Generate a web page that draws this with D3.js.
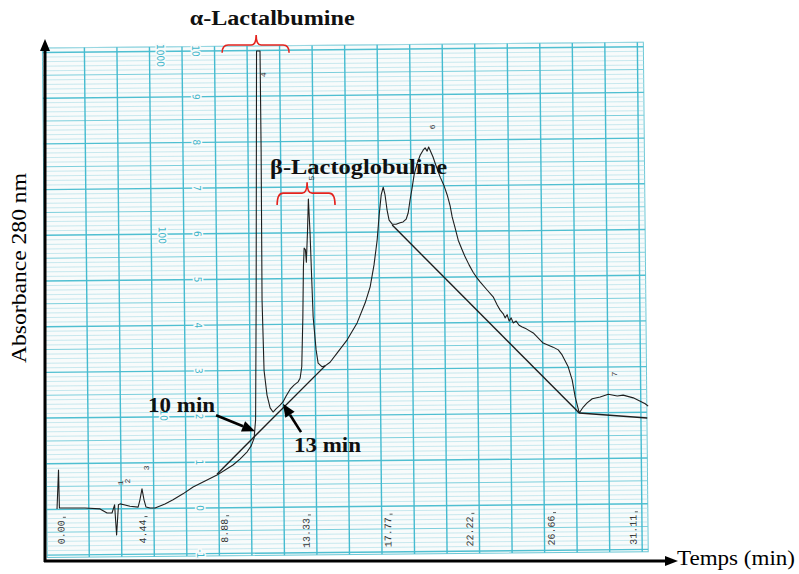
<!DOCTYPE html>
<html><head><meta charset="utf-8">
<script src="https://cdn.jsdelivr.net/npm/d3@7"></script>
<style>body{margin:0;background:#fff}</style>
</head><body><svg id="c" width="799" height="574"></svg>
<script>
// ---- Data (time in min, absorbance in chart units) ----
const traceTime = [-0.27,-0.19,-0.14,0.44,1.25,2.07,2.45,2.72,2.86,2.97,3.07,3.16,3.37,3.70,4.14,4.24,4.35,4.46,4.57,4.79,5.06,5.60,6.04,6.58,7.13,7.78,8.43,8.87,9.30,9.68,10.07,10.29,10.45,10.53,10.56,10.58,10.77,10.83,10.88,10.99,11.15,11.32,11.48,11.64,11.86,12.02,12.19,12.41,12.62,12.84,12.95,13.04,13.10,13.13,13.17,13.24,13.29,13.35,13.40,13.49,13.59,13.66,13.82,13.93,14.15,14.31,14.58,14.96,15.51,16.05,16.49,16.76,16.97,17.14,17.25,17.36,17.47,17.57,17.68,17.79,17.96,18.17,18.39,18.55,18.72,18.83,18.93,19.04,19.15,19.31,19.48,19.64,19.75,19.86,19.94,20.02,20.18,20.29,20.57,20.78,20.95,21.11,21.22,21.38,21.55,21.76,21.93,22.14,22.36,22.58,22.74,23.12,23.45,23.67,23.83,24.00,24.10,24.21,24.32,24.43,24.54,24.70,24.86,25.03,25.25,25.63,26.17,26.71,26.99,27.20,27.53,27.75,27.91,28.13,28.35,28.56,28.84,29.27,29.71,30.20,30.52,31.07,31.72,31.88];
const traceAbs = [-0.02,0.83,0,0,0,-0.02,-0.11,-0.11,0.07,-0.59,0.07,0.09,0.07,0.04,0.02,0.18,0.42,0.18,0.02,0,0,0.09,0.18,0.31,0.46,0.59,0.72,0.83,0.94,1.07,1.23,1.36,1.53,1.93,4.55,10.0,10.0,7.83,4.55,3.01,2.47,2.19,2.10,2.17,2.25,2.32,2.45,2.60,2.69,2.76,2.84,3.09,4.18,5.27,5.69,5.65,5.38,6.02,6.76,6.02,4.92,4.18,3.46,3.17,3.09,3.11,3.19,3.39,3.68,4.05,4.49,4.84,5.32,5.86,6.41,6.85,7.02,6.85,6.52,6.30,6.21,6.21,6.24,6.26,6.32,6.46,6.74,7.00,7.29,7.53,7.72,7.83,7.88,7.81,7.90,7.83,7.68,7.55,7.24,7.05,6.85,6.61,6.37,6.13,5.86,5.65,5.49,5.32,5.16,5.03,4.95,4.77,4.62,4.44,4.33,4.25,4.16,4.23,4.09,4.16,4.05,4.09,4.00,3.96,3.92,3.83,3.61,3.52,3.46,3.35,3.09,2.80,2.43,2.08,2.21,2.30,2.39,2.43,2.49,2.45,2.47,2.41,2.28,2.23];
const baselineTime = [[8.43,14.31],[17.96,28.13],[28.13,31.83]];
const baselineAbs  = [[0.74,3.11],[6.19,2.08],[2.08,1.97]];
const timeTicks = [0,4.44,8.88,13.33,17.77,22.22,26.66,31.11];
const timeTickLabels = ["0.00","4.44","8.88","13.33","17.77","22.22","26.66","31.11"];
const linTicks = [-1,0,1,2,3,4,5,6,7,8,9,10];
const logTicks = [10,100,1000];
const peakNums = ["1","2","3","4","5","6","7"];
const peakTimes = [3.16,3.54,4.62,10.94,13.55,20.13,30.03];
const peakAbs = [0.55,0.59,0.88,9.48,7.22,8.34,2.93];
// annotations (data units)
const braceNames = ["α-Lactalbumine","β-Lactoglobuline"];
const braceT0 = [8.71,11.70], braceT1 = [12.35,14.85], braceMid = [10.56,13.33];
const braceAbsBar = [10.13,6.89], braceAbsEnd = [9.96,6.63], braceAbsPeak = [10.35,7.13];
const nameT = [11.43,16.13], nameAbs = [10.57,7.31], nameLen = [165,177];
const arrowLabels = ["10 min","13 min"];
const arrowTailT = [8.38,13.0], arrowTailA = [2.03,1.66];
const arrowTipT = [10.50,12.02], arrowTipA = [1.68,2.28];
const arrowTextT = [4.68,12.62], arrowTextA = [2.10,1.23];

// ---- Scales ----
const x = d3.scaleLinear().domain([0,31.11]).range([62,634]);
const y = d3.scaleLinear().domain([0,10]).range([508,51]);
const col = d3.scaleLinear().domain([0,18]).range([56.5,642]);
const logY = d3.scaleLog().domain([10,1000]).range([2.04,9.91]);

const svg = d3.select("#c");
svg.append("rect").attr("width",799).attr("height",574).attr("fill","#fff");

// ---- chart paper (slightly rotated scan) ----
const paper = svg.append("g").attr("transform","rotate(-0.55,200,530)");
const P = {x0:47,x1:648,y0:46.5,y1:556};
paper.append("rect").attr("x",P.x0).attr("y",P.y0).attr("width",P.x1-P.x0).attr("height",P.y1-P.y0)
  .attr("fill","#f8fbfb").attr("stroke","#6cc8d6").attr("stroke-width",1);
const hv = d3.range(-10,102).map(d=>d/10);
paper.selectAll("line.h").data(hv).join("line")
  .attr("x1",P.x0).attr("x2",P.x1).attr("y1",d=>y(d)).attr("y2",d=>y(d))
  .attr("stroke",d=>Math.abs(d-Math.round(d))<1e-6?"#4fbfd1":(Math.abs(d*2-Math.round(d*2))<1e-6?"#7ccfdc":"#b2e0e8"))
  .attr("stroke-width",d=>Math.abs(d-Math.round(d))<1e-6?1.4:(Math.abs(d*2-Math.round(d*2))<1e-6?1.0:0.7));
paper.selectAll("line.v").data(d3.range(1,19)).join("line")
  .attr("x1",d=>col(d)).attr("x2",d=>col(d)).attr("y1",P.y0).attr("y2",P.y1)
  .attr("stroke","#45bbd0").attr("stroke-width",1.4);
// linear scale labels
paper.selectAll("text.lin").data(linTicks).join("text")
  .attr("transform",d=>`translate(${x(7.52)},${y(d)}) rotate(90)`)
  .attr("text-anchor","middle").attr("dominant-baseline","central")
  .attr("font-family","DejaVu Sans Condensed, DejaVu Sans").attr("font-size",10)
  .attr("fill","#3fb6ca").attr("stroke","#f8fbfb").attr("stroke-width",3).attr("paint-order","stroke")
  .text(d=>d);
paper.selectAll("text.log").data(logTicks).join("text")
  .attr("transform",d=>`translate(${x(5.6)},${y(logY(d))}) rotate(90)`)
  .attr("text-anchor","middle").attr("dominant-baseline","central")
  .attr("font-family","DejaVu Sans Condensed, DejaVu Sans").attr("font-size",10)
  .attr("fill","#3fb6ca").attr("stroke","#f8fbfb").attr("stroke-width",3).attr("paint-order","stroke")
  .text(d=>d);
// time labels
const tl = paper.selectAll("g.tl").data(timeTicks).join("g")
  .attr("transform",d=>`translate(${x(d)},519)`);
tl.append("text").attr("transform","rotate(-90)").attr("text-anchor","end").attr("dominant-baseline","central")
  .attr("font-family","Liberation Mono, DejaVu Sans Mono").attr("font-size",10).attr("fill","#333")
  .text((d,i)=>timeTickLabels[i]);
tl.append("line").attr("x1",1).attr("x2",4).attr("y1",-3).attr("y2",-3).attr("stroke","#333").attr("stroke-width",0.8);

// ---- trace ----
const line = d3.line().x(d=>x(d[0])).y(d=>y(d[1]));
svg.append("path").datum(traceTime.map((t,i)=>[t,traceAbs[i]]))
  .attr("d",line).attr("fill","none").attr("stroke","#1e1e1e").attr("stroke-width",1.1).attr("stroke-linejoin","round");
svg.selectAll("path.base").data(baselineTime).join("path")
  .attr("d",(d,i)=>line(d.map((t,j)=>[t,baselineAbs[i][j]])))
  .attr("fill","none").attr("stroke","#1e1e1e").attr("stroke-width",1.4);
// peak numbers
svg.selectAll("text.pk").data(peakNums).join("text")
  .attr("transform",(d,i)=>`translate(${x(peakTimes[i])},${y(peakAbs[i])}) rotate(-90)`)
  .attr("text-anchor","middle").attr("dominant-baseline","central")
  .attr("font-family","Liberation Mono, DejaVu Sans Mono").attr("font-size",8).attr("fill","#333").text(d=>d);

// ---- axes ----
const ax = svg.append("g");
ax.append("line").attr("x1",45).attr("x2",45).attr("y1",50).attr("y2",562).attr("stroke","#000").attr("stroke-width",3);
ax.append("path").attr("d","M45,39 L50,51 L40,51 Z").attr("fill","#000");
ax.append("line").attr("x1",44).attr("x2",668).attr("y1",561).attr("y2",561).attr("stroke","#000").attr("stroke-width",3);
ax.append("path").attr("d","M678,561 L665,556 L665,566 Z").attr("fill","#000");
svg.append("text").attr("x",677).attr("y",565).attr("font-family","Liberation Serif, serif").attr("font-size",21)
  .attr("textLength",118).attr("lengthAdjust","spacingAndGlyphs").text("Temps (min)");
svg.append("text").attr("transform","translate(26,268) rotate(-90)").attr("text-anchor","middle")
  .attr("font-family","Liberation Serif, serif").attr("font-size",21)
  .attr("textLength",190).attr("lengthAdjust","spacingAndGlyphs").text("Absorbance 280 nm");

// ---- annotations ----
braceNames.forEach((nm,i)=>{
  const x0=x(braceT0[i]), x1=x(braceT1[i]), xm=x(braceMid[i]);
  const yb=y(braceAbsBar[i]), ye=y(braceAbsEnd[i]), yp=y(braceAbsPeak[i]);
  const r=Math.min(6,(ye-yb));
  svg.append("path").attr("d",`M${x0},${ye} Q${x0},${yb} ${x0+r},${yb} L${xm-5},${yb} Q${xm},${yb} ${xm},${yp} Q${xm},${yb} ${xm+5},${yb} L${x1-r},${yb} Q${x1},${yb} ${x1},${ye}`)
    .attr("fill","none").attr("stroke","#e3231e").attr("stroke-width",1.6);
  svg.append("text").attr("x",x(nameT[i])).attr("y",y(nameAbs[i])).attr("text-anchor","middle")
    .attr("font-family","Liberation Serif, serif").attr("font-weight","bold").attr("font-size",20)
    .attr("textLength",nameLen[i]).attr("lengthAdjust","spacingAndGlyphs").attr("fill","#111").text(nm);
});
arrowLabels.forEach((lb,i)=>{
  const x0=x(arrowTailT[i]), y0=y(arrowTailA[i]), x1=x(arrowTipT[i]), y1=y(arrowTipA[i]);
  const ang=Math.atan2(y1-y0,x1-x0), L=13, W=5.5;
  const bx=x1-L*Math.cos(ang), by=y1-L*Math.sin(ang);
  svg.append("line").attr("x1",x0).attr("y1",y0).attr("x2",bx).attr("y2",by).attr("stroke","#000").attr("stroke-width",2.6);
  svg.append("path").attr("d",`M${x1},${y1} L${bx+W*Math.sin(ang)},${by-W*Math.cos(ang)} L${bx-W*Math.sin(ang)},${by+W*Math.cos(ang)} Z`).attr("fill","#000");
  svg.append("text").attr("x",x(arrowTextT[i])).attr("y",y(arrowTextA[i]))
    .attr("font-family","Liberation Serif, serif").attr("font-weight","bold").attr("font-size",20)
    .attr("textLength",67).attr("lengthAdjust","spacingAndGlyphs").attr("fill","#111").text(lb);
});
</script></body></html>
